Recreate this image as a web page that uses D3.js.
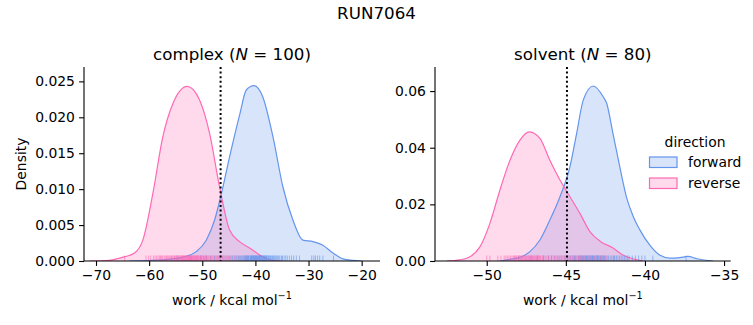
<!DOCTYPE html>
<html>
<head>
<meta charset="utf-8">
<script src="https://cdn.jsdelivr.net/npm/d3@7"></script>
<style>
  body { margin: 0; background: #fff; }
  text { font-family: "DejaVu Sans", sans-serif; fill: #000; }
</style>
</head>
<body>
<svg id="fig" width="753" height="325"></svg>
<script>
// ---- data -------------------------------------------------------------
const suptitle = "RUN7064";
const panelNames = ["complex", "solvent"];
const panelCounts = [100, 80];
const directions = ["forward", "reverse"];
const dirColors = ["#6495ed", "#ff69b4"];

// estimated free energy (dotted marker), kcal/mol
const markerValues = [-46.55, -44.93];

// x ticks and y ticks per panel
const complexXTicks = [-70, -60, -50, -40, -30, -20];
const complexYTicks = [0, 0.005, 0.010, 0.015, 0.020, 0.025];
const solventXTicks = [-50, -45, -40, -35];
const solventYTicks = [0, 0.02, 0.04, 0.06];
const complexXDomain = [-72.26, -16.55];
const complexYDomain = [0, 0.0270];
const solventXDomain = [-53.27, -34.58];
const solventYDomain = [0, 0.0685];

// kernel density curves: work value -> density
const complexFwdX = [-63.7, -56.78, -53.33, -51.13, -49.25, -47.68, -46.55, -44.86, -42.98, -41.71, -40.28, -38.59, -36.70, -34.82, -32.94, -31.05, -29.17, -27.29, -25.40, -23.52, -21.64, -20.0];
const complexFwdY = [0, 0.0002, 0.0006, 0.0013, 0.0029, 0.0057, 0.0089, 0.0145, 0.0203, 0.0238, 0.0244, 0.0228, 0.0173, 0.0103, 0.0057, 0.0029, 0.0027, 0.0022, 0.0011, 0.0003, 0.0001, 0];
const complexRevX = [-71.2, -67.5, -64.6, -62.75, -61.19, -59.30, -57.42, -55.54, -52.82, -50.51, -48.63, -46.74, -44.86, -42.98, -41.09, -38.64, -36.76, -34.9];
const complexRevY = [0, 0.0001, 0.0006, 0.0011, 0.0029, 0.0094, 0.0173, 0.0219, 0.0243, 0.0224, 0.0178, 0.0103, 0.0043, 0.0027, 0.0018, 0.0006, 0.0001, 0];
const solventFwdX = [-49.17, -48.53, -47.90, -47.27, -46.64, -46.01, -45.37, -44.74, -44.32, -43.90, -43.27, -42.64, -42.42, -42.02, -41.58, -41.14, -40.76, -40.32, -39.68, -39.05, -38.42, -37.79, -37.28, -36.71, -35.7];
const solventFwdY = [0, 0.0006, 0.0013, 0.0033, 0.0074, 0.0145, 0.0227, 0.0333, 0.0450, 0.0568, 0.0618, 0.0580, 0.0557, 0.0450, 0.0330, 0.0220, 0.0160, 0.0110, 0.0055, 0.0020, 0.0010, 0.0012, 0.0016, 0.0008, 0];
const solventRevX = [-52.53, -51.69, -51.06, -50.43, -49.80, -49.17, -48.53, -47.90, -47.31, -46.64, -46.01, -45.37, -44.74, -44.11, -43.48, -42.84, -42.02, -41.39, -40.76, -40.13];
const solventRevY = [0, 0.0004, 0.0015, 0.0050, 0.0133, 0.0250, 0.0356, 0.0427, 0.0456, 0.0433, 0.0356, 0.0286, 0.0227, 0.0168, 0.0104, 0.0070, 0.0046, 0.0021, 0.0008, 0];

// individual work samples (rug)
const complexFwdWork = [
  -54.6, -52.1, -50.3, -49.2, -48.4, -47.7, -47.1, -46.6, -46.1, -45.7,
  -45.3, -44.9, -44.6, -44.3, -44.0, -43.7, -43.5, -43.2, -43.0, -42.8,
  -42.6, -42.4, -42.2, -42.0, -41.9, -41.7, -41.6, -41.4, -41.3, -41.2,
  -41.0, -40.9, -40.8, -40.7, -40.6, -40.5, -40.4, -40.3, -40.2, -40.1,
  -40.0, -39.9, -39.8, -39.7, -39.6, -39.5, -39.4, -39.3, -39.2, -39.1,
  -39.0, -38.9, -38.8, -38.7, -38.6, -38.5, -38.4, -38.3, -38.2, -38.0,
  -37.9, -37.8, -37.6, -37.5, -37.4, -37.2, -37.1, -36.9, -36.8, -36.6,
  -36.4, -36.2, -36.0, -35.8, -35.6, -35.4, -35.1, -34.9, -34.6, -34.3,
  -34.0, -33.6, -33.2, -32.8, -32.3, -31.7, -29.4, -29.0, -28.7, -28.3,
  -27.9, -27.3, -25.3, -41.8, -41.5, -40.75, -40.25, -39.85, -39.25, -38.1
];
const complexRevWork = [
  -64.6, -60.6, -60.1, -59.7, -59.2, -58.9, -58.6, -58.3, -58.0, -57.9,
  -57.7, -57.5, -57.2, -57.0, -56.8, -56.7, -56.5, -56.3, -56.1, -55.9,
  -55.8, -55.7, -55.5, -55.3, -55.2, -55.1, -54.9, -54.8, -54.7, -54.6,
  -54.4, -54.3, -54.1, -54.0, -53.9, -53.8, -53.7, -53.6, -53.5, -53.4,
  -53.3, -53.2, -53.1, -53.0, -52.9, -52.8, -52.7, -52.6, -52.5, -52.45,
  -52.4, -52.3, -52.2, -52.1, -52.0, -51.9, -51.8, -51.7, -51.6, -51.5,
  -51.4, -51.3, -51.2, -51.1, -51.0, -50.9, -50.8, -50.7, -50.5, -50.4,
  -50.3, -50.2, -50.1, -49.9, -49.8, -49.7, -49.6, -49.4, -49.3, -49.2,
  -49.0, -48.8, -48.6, -48.4, -48.2, -48.0, -47.8, -47.5, -47.3, -47.0,
  -46.8, -46.5, -46.2, -45.9, -45.5, -45.1, -44.6, -44.0, -43.3, -42.2
];
const solventFwdWork = [
  -48.0, -47.2, -46.8, -46.4, -46.1, -45.9, -45.7, -45.5, -45.3, -45.1,
  -45.0, -44.9, -44.8, -44.7, -44.6, -44.5, -44.4, -44.3, -44.2, -44.15,
  -44.1, -44.05, -44.0, -43.95, -43.9, -43.85, -43.8, -43.75, -43.7, -43.65,
  -43.6, -43.55, -43.5, -43.45, -43.4, -43.35, -43.3, -43.25, -43.2, -43.15,
  -43.1, -43.05, -43.0, -42.95, -42.9, -42.85, -42.8, -42.75, -42.7, -42.65,
  -42.6, -42.5, -42.4, -42.3, -42.2, -42.1, -42.0, -41.9, -41.8, -41.7,
  -41.6, -41.5, -41.4, -41.3, -41.2, -41.1, -41.0, -40.8, -40.6, -40.4,
  -40.2, -40.0, -39.5, -37.4, -44.45, -43.68, -43.32, -42.98, -42.55, -41.95
];
const solventRevWork = [
  -50.0, -49.8, -49.3, -49.1, -48.9, -48.8, -48.7, -48.6, -48.5, -48.4,
  -48.3, -48.2, -48.15, -48.1, -48.0, -47.95, -47.9, -47.85, -47.8, -47.7,
  -47.65, -47.6, -47.55, -47.5, -47.45, -47.4, -47.35, -47.3, -47.25, -47.2,
  -47.15, -47.1, -47.0, -46.95, -46.9, -46.8, -46.75, -46.7, -46.6, -46.5,
  -46.4, -46.3, -46.2, -46.1, -46.0, -45.9, -45.8, -45.7, -45.6, -45.5,
  -45.4, -45.3, -45.2, -45.1, -45.0, -44.9, -44.8, -44.7, -44.6, -44.5,
  -44.4, -44.3, -44.2, -44.1, -44.0, -43.9, -43.8, -43.6, -43.4, -43.2,
  -43.0, -42.8, -42.6, -42.4, -48.25, -47.75, -47.05, -46.85, -46.65, -46.45
];

// ---- drawing ------------------------------------------------------------
const svg = d3.select("#fig");
const TICK_FONT = 13.9, TITLE_FONT = 16.7;

svg.append("text")
  .attr("x", 376.5).attr("y", 19)
  .attr("text-anchor", "middle")
  .style("font-size", TITLE_FONT + "px")
  .text(suptitle);

const panels = [
  {
    name: panelNames[0], n: panelCounts[0], left: 84, right: 380, top: 67, bottom: 261,
    xDomain: complexXDomain, yDomain: complexYDomain,
    xTicks: complexXTicks, yTicks: complexYTicks, yFmt: d3.format(".3f"),
    curves: [[complexFwdX, complexFwdY], [complexRevX, complexRevY]],
    rugs: [complexFwdWork, complexRevWork], marker: markerValues[0], ylabel: true
  },
  {
    name: panelNames[1], n: panelCounts[1], left: 435, right: 730.7, top: 67, bottom: 261,
    xDomain: solventXDomain, yDomain: solventYDomain,
    xTicks: solventXTicks, yTicks: solventYTicks, yFmt: d3.format(".2f"),
    curves: [[solventFwdX, solventFwdY], [solventRevX, solventRevY]],
    rugs: [solventFwdWork, solventRevWork], marker: markerValues[1], ylabel: false
  }
];

const minus = s => s.replace(/-/g, "\u2212");

panels.forEach((p, pi) => {
  const x = d3.scaleLinear().domain(p.xDomain).range([p.left, p.right]);
  const y = d3.scaleLinear().domain(p.yDomain).range([p.bottom, p.top]);
  const g = svg.append("g");

  const clipId = "clip" + pi;
  svg.append("clipPath").attr("id", clipId)
    .append("rect").attr("x", p.left).attr("y", p.top)
    .attr("width", p.right - p.left).attr("height", p.bottom - p.top);
  const plot = g.append("g").attr("clip-path", `url(#${clipId})`);

  const area = d3.area().curve(d3.curveMonotoneX)
    .x(d => x(d[0])).y0(y(0)).y1(d => y(d[1]));
  const line = d3.line().curve(d3.curveMonotoneX)
    .x(d => x(d[0])).y(d => y(d[1]));

  // filled densities
  p.curves.forEach((c, ci) => {
    const pts = c[0].map((v, i) => [v, c[1][i]]);
    plot.append("path").datum(pts)
      .attr("d", area)
      .attr("fill", dirColors[ci]).attr("fill-opacity", 0.25);
  });
  p.curves.forEach((c, ci) => {
    const pts = c[0].map((v, i) => [v, c[1][i]]);
    plot.append("path").datum(pts)
      .attr("d", line)
      .attr("fill", "none").attr("stroke", dirColors[ci]).attr("stroke-width", 1.2);
  });

  // rug of individual samples
  const rugH = 5.5;
  p.rugs.forEach((r, ri) => {
    plot.append("g").selectAll("line").data(r).join("line")
      .attr("x1", d => x(d)).attr("x2", d => x(d))
      .attr("y1", p.bottom).attr("y2", p.bottom - rugH)
      .attr("stroke", dirColors[ri]).attr("stroke-opacity", 0.6)
      .attr("stroke-width", 1);
  });

  // dotted marker line
  plot.append("line")
    .attr("x1", x(p.marker)).attr("x2", x(p.marker))
    .attr("y1", p.top).attr("y2", p.bottom)
    .attr("stroke", "#000").attr("stroke-width", 2)
    .attr("stroke-dasharray", "2,2.6");

  // axes
  const xAxis = d3.axisBottom(x).tickValues(p.xTicks)
    .tickSize(4.9).tickPadding(4.2).tickFormat(d => minus(d3.format("d")(d)));
  const yAxis = d3.axisLeft(y).tickValues(p.yTicks)
    .tickSize(4.9).tickPadding(4.2).tickFormat(d => p.yFmt(d));
  const gx = g.append("g").attr("transform", `translate(0,${p.bottom})`).call(xAxis);
  const gy = g.append("g").attr("transform", `translate(${p.left},0)`).call(yAxis);
  [gx, gy].forEach(a => {
    a.select(".domain").attr("stroke", "#000").attr("stroke-width", 1.1);
    a.selectAll(".tick line").attr("stroke", "#000").attr("stroke-width", 1.1);
    a.selectAll(".tick text").style("font-size", TICK_FONT + "px")
      .style("font-family", '"DejaVu Sans", sans-serif').attr("fill", "#000");
  });
  // spines span the whole axes box
  gy.select(".domain").attr("d", `M0,${p.bottom}V${p.top}`);
  gx.select(".domain").attr("d", `M${p.left},0H${p.right}`);

  // panel title with italic N
  const cx = (p.left + p.right) / 2;
  const t = g.append("text").attr("x", cx).attr("y", 60)
    .attr("text-anchor", "middle").style("font-size", TITLE_FONT + "px");
  t.append("tspan").text(p.name + " (");
  t.append("tspan").style("font-style", "italic").text("N");
  t.append("tspan").text(" = " + p.n + ")");

  // x label
  const xl = g.append("text").attr("x", cx).attr("y", 305)
    .attr("text-anchor", "middle").style("font-size", TICK_FONT + "px");
  xl.append("tspan").text("work / kcal mol");
  xl.append("tspan").attr("dy", -6).style("font-size", "9.7px").text("\u22121");

  if (p.ylabel) {
    g.append("text")
      .attr("transform", `translate(26,${(p.top + p.bottom) / 2}) rotate(-90)`)
      .attr("text-anchor", "middle").style("font-size", TICK_FONT + "px")
      .text("Density");
  }
});

// legend
const leg = svg.append("g");
leg.append("text").attr("x", 695).attr("y", 146.5)
  .attr("text-anchor", "middle").style("font-size", TICK_FONT + "px").text("direction");
directions.forEach((d, i) => {
  const yy = 157 + i * 21;
  leg.append("rect").attr("x", 649.5).attr("y", yy).attr("width", 27.5).attr("height", 10.5)
    .attr("fill", dirColors[i]).attr("fill-opacity", 0.25)
    .attr("stroke", dirColors[i]).attr("stroke-width", 1.2);
  leg.append("text").attr("x", 688).attr("y", yy + 10)
    .style("font-size", TICK_FONT + "px").text(d);
});
</script>
</body>
</html>
